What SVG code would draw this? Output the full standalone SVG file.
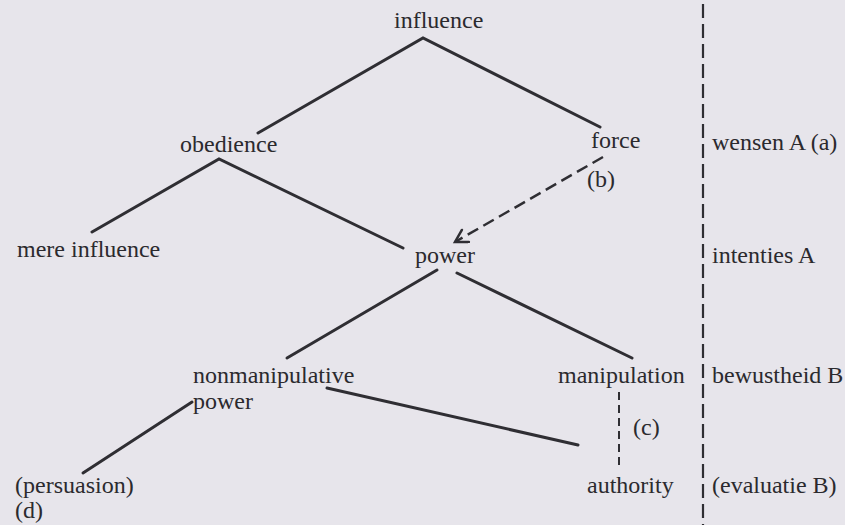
<svg xmlns="http://www.w3.org/2000/svg" width="845" height="525" viewBox="0 0 845 525">
<style>
text{font-family:"Liberation Serif","Times New Roman",serif;font-size:24px;fill:#2b2a2e}
.ln{stroke:#2f2e33;stroke-width:3;fill:none;stroke-linecap:round}
.dash{stroke:#2f2e33;stroke-width:2.5;fill:none;stroke-dasharray:12 6}
.sep{stroke:#2f2e33;stroke-width:2.2;fill:none;stroke-dasharray:14 6}
.fine{stroke:#2f2e33;stroke-width:2;fill:none;stroke-dasharray:8 5}
</style>
<defs>
<marker id="arr" markerUnits="userSpaceOnUse" markerWidth="20" markerHeight="20" refX="14" refY="8" orient="auto">
<path d="M2,1 L14,8 L2,15" fill="none" stroke="#2f2e33" stroke-width="2.5" stroke-linecap="round"/>
</marker>
</defs>
<rect width="845" height="525" fill="#e7e5eb"/>
<g id="connectors">
<path class="ln" d="M258,133 L423,38 L600,127"/>
<path class="ln" d="M92,232 L219,159 L403,248"/>
<path class="dash" d="M603,157 L455,242" marker-end="url(#arr)"/>
<path class="ln" d="M287,358 L437,270"/>
<path class="ln" d="M457,273 L632,358"/>
<path class="ln" d="M327,388 L578,445"/>
<path class="ln" d="M83,473 L192,402"/>
<path class="fine" d="M619,392 L619,470"/>
</g>
<g id="separator"><path class="sep" d="M703,4 L703,525"/></g>
<g id="influence"><text x="394" y="28">influence</text></g>
<g id="obedience"><text x="180" y="152">obedience</text></g>
<g id="force"><text x="591" y="148">force</text></g>
<g id="label-b"><text x="587" y="187">(b)</text></g>
<g id="mere-influence"><text x="17" y="257">mere influence</text></g>
<g id="power"><text x="415" y="263">power</text></g>
<g id="nonmanipulative-power"><text x="193" y="383">nonmanipulative</text><text x="193" y="409">power</text></g>
<g id="manipulation"><text x="558" y="383">manipulation</text></g>
<g id="label-c"><text x="633" y="435">(c)</text></g>
<g id="authority"><text x="587" y="493">authority</text></g>
<g id="persuasion"><text x="15" y="493">(persuasion)</text><text x="15" y="518">(d)</text></g>
<g id="right-labels">
<text x="712" y="150">wensen A (a)</text>
<text x="712" y="263">intenties A</text>
<text x="712" y="383">bewustheid B</text>
<text x="712" y="493">(evaluatie B)</text>
</g>
</svg>
